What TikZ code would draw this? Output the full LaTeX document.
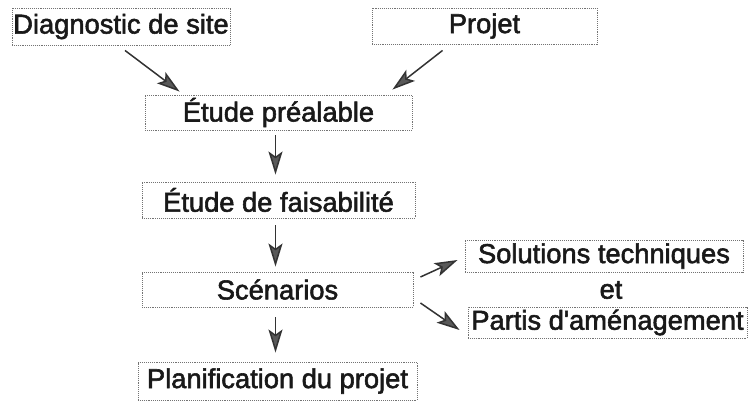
\documentclass[tikz,border=0pt]{standalone}
\usepackage{fontspec}
\setmainfont[FakeBold=2]{Liberation Sans}
\usetikzlibrary{calc,arrows.meta}
\begin{document}
\begin{tikzpicture}[x=1pt,y=-1pt,
  box/.style={draw=black!55,densely dotted,line width=0.9pt,inner sep=0pt,
    font=\fontsize{27.3}{29}\selectfont,text=black!90},
  arr/.style={draw=black!80,line width=1.5pt,-{Stealth[length=23pt,width=14pt,inset=5pt,fill=black!65]}}]
\useasboundingbox (0,0) rectangle (748,403);
\node[box,minimum width=218pt,minimum height=37pt] (diag) at (121,26.5) {Diagnostic de site};
\node[box,minimum width=225pt,minimum height=36pt] (projet) at (484.5,26) {Projet};
\node[box,minimum width=267pt,minimum height=35pt] (etude) at (278.5,112.5) {Étude préalable};
\node[box,minimum width=273pt,minimum height=36pt] (faisab) at (278.5,200) {Étude de faisabilité};
\node[box,minimum width=271pt,minimum height=35pt] (scen) at (277.5,289.5) {Scénarios};
\node[box,minimum width=279pt,minimum height=38pt] (plan) at (277.5,381) {Planification du projet};
\node[box,minimum width=278pt,minimum height=32pt] (sol) at (604,256) {Solutions techniques};
\node[box,minimum width=279pt,minimum height=31pt] (partis) at (607.5,322.5) {Partis d\textquotesingle aménagement};
\node[font=\fontsize{27.3}{29}\selectfont,text=black!90,inner sep=0pt] (et) at (611,290) {et};
\draw[arr] ($(diag.south)+(4,5)$) -- ($(etude.north west)+(35,-3)$);
\draw[arr] ($(projet.south west)+(71,6)$) -- ($(etude.north east)+(-20,-5)$);
\draw[arr,shorten <=5pt,shorten >=7pt] ($(etude.south)+(-3,0)$) -- ($(faisab.north)+(-3,0)$);
\draw[arr,shorten <=7pt,shorten >=5pt] ($(faisab.south)+(-3,0)$) -- ($(scen.north)+(-2,0)$);
\draw[arr,shorten <=10pt,shorten >=9pt] ($(scen.south)+(-2,0)$) -- ($(plan.north)+(-2,0)$);
\draw[arr] ($(scen.east)+(7,-12.5)$) -- ($(sol.west)+(-7,4)$);
\draw[arr] ($(scen.east)+(7,13.5)$) -- ($(partis.west)+(-8,7.5)$);
\end{tikzpicture}
\end{document}
